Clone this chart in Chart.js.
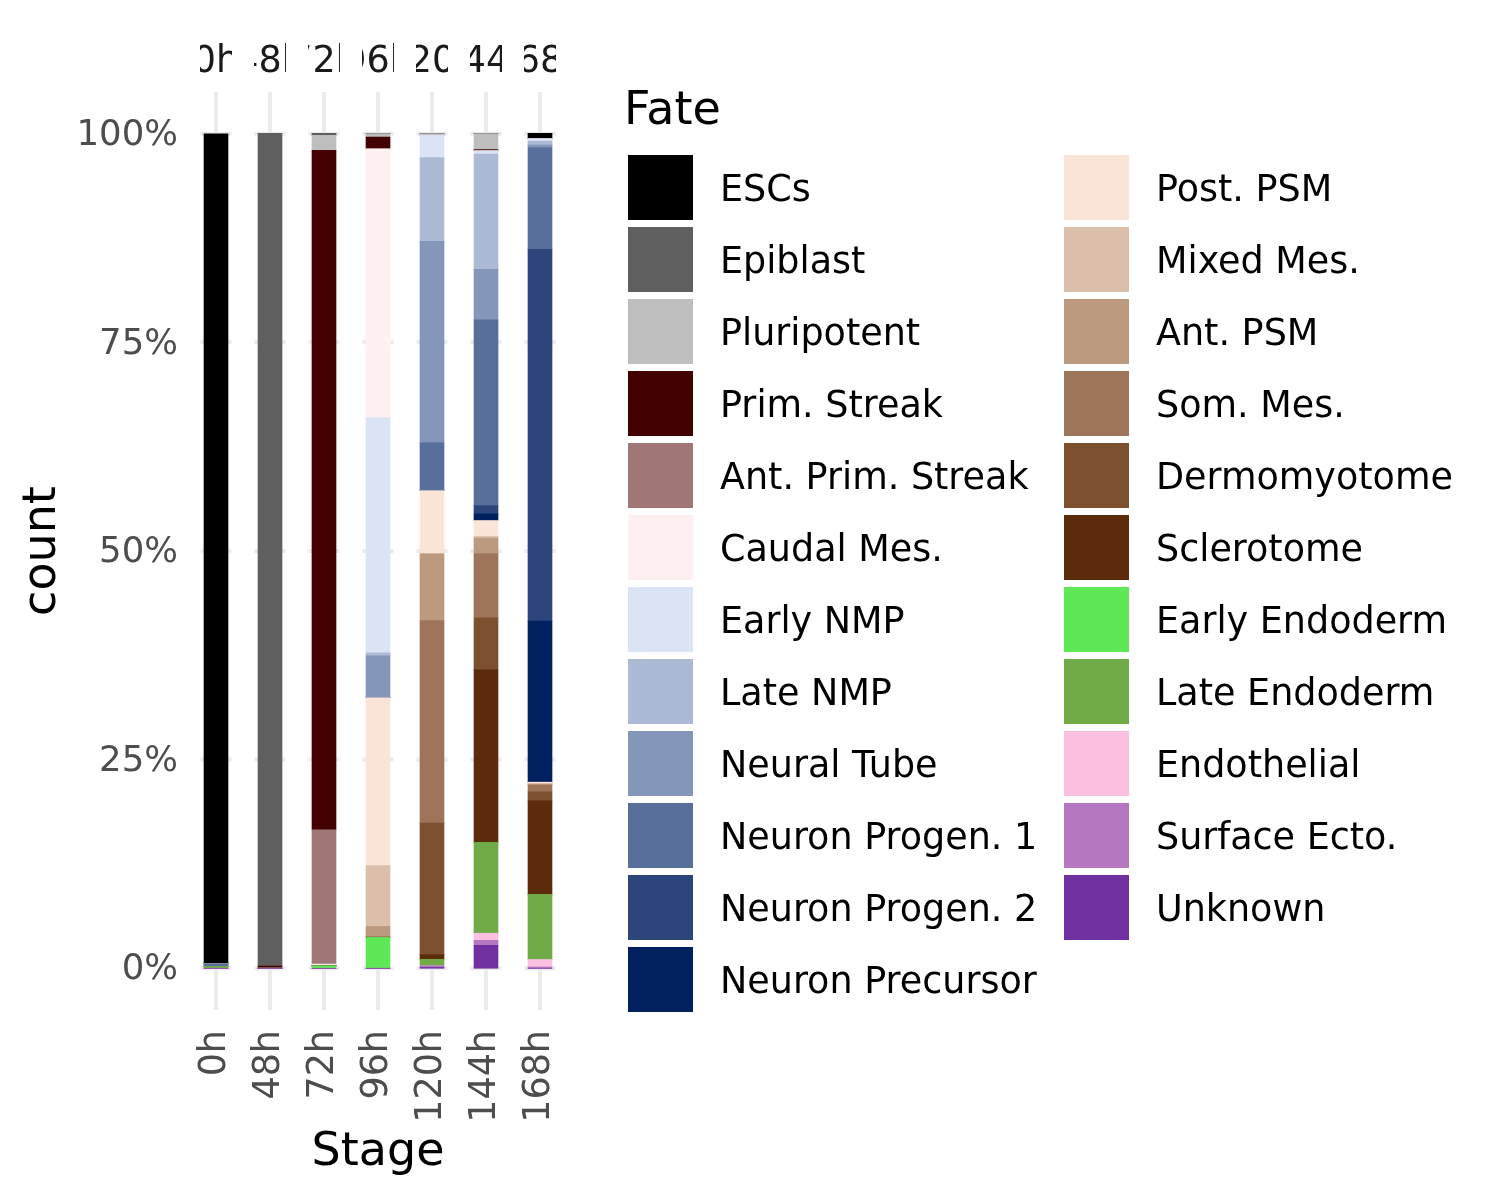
<!DOCTYPE html>
<html><head><meta charset="utf-8">
<script src="https://cdn.jsdelivr.net/npm/chart.js@4"></script>
<style>html,body{margin:0;padding:0;background:#fff}canvas{display:block}</style>
</head><body>
<canvas id="c" width="1500" height="1200"></canvas>
<script>
const stages = ['0h','48h','72h','96h','120h','144h','168h'];
const fates = ['ESCs','Epiblast','Pluripotent','Prim. Streak','Ant. Prim. Streak','Caudal Mes.','Early NMP','Late NMP','Neural Tube','Neuron Progen. 1','Neuron Progen. 2','Neuron Precursor','Post. PSM','Mixed Mes.','Ant. PSM','Som. Mes.','Dermomyotome','Sclerotome','Early Endoderm','Late Endoderm','Endothelial','Surface Ecto.','Unknown'];
const fateColors = ['#000000','#5f5f5f','#bebebe','#430000','#a07676','#fef0f0','#dbe4f4','#adbad6','#8496b9','#586e9b','#2c467c','#00205e','#fae4d8','#dbbfab','#bc9a80','#9e755a','#7d5030','#5c2b0b','#5ee856','#70ab47','#fbbfe0','#b577c0','#7130a0'];
// percentage share of each fate (same order as fates) per stage
const share0h   = [99.5,0,0,0,0,0,0,0,0,0.3,0,0,0,0,0,0,0,0,0,0.2,0,0,0];
const share48h  = [0,99.7,0,0.3,0,0,0,0,0,0,0,0,0,0,0,0,0,0,0,0,0,0,0];
const share72h  = [0,0.2,1.8,81.4,16.1,0.2,0,0,0,0,0,0,0,0,0,0,0,0,0.3,0,0,0,0];
const share96h  = [0,0,0.4,1.4,0,32.25,28.15,0.35,5.0,0,0,0,20.15,7.3,1.2,0.1,0,0,3.7,0,0,0,0];
const share120h = [0,0,0.2,0,0,0,2.65,10.05,24.1,5.75,0,0,7.6,0,8.0,24.25,15.75,0.6,0,0.75,0,0.2,0.1];
const share144h = [0,0,1.9,0.15,0,0,0.4,13.8,6.05,22.25,1.0,0.8,1.9,0.2,1.85,7.7,6.25,20.7,0,10.85,0.85,0.6,2.75];
const share168h = [0.65,0,0,0,0,0,0.3,0.45,0.3,12.2,44.55,19.3,0.15,0.1,0.1,0.8,1.1,11.2,0,7.8,0.9,0.15,0];
const stageShares = [share0h,share48h,share72h,share96h,share120h,share144h,share168h];
const yTickValues = [0,25,50,75,100];

const FONT = "'DejaVu Sans', sans-serif";
const SMALL = 36.5;
const BIG = 46;

const datasets = fates.map((f, k) => ({
  label: f,
  data: stageShares.map(s => s[k]),
  backgroundColor: fateColors[k],
  borderWidth: 0,
  barThickness: 24,
  stack: 'fill'
})).reverse();

const panelDecor = {
  id: 'panelDecor',
  beforeDatasetsDraw(chart) {
    const {ctx, scales: {x, y}} = chart;
    ctx.save();
    ctx.strokeStyle = '#ebebeb';
    ctx.lineWidth = 4;
    yTickValues.forEach(v => {
      const py = y.getPixelForValue(v);
      stages.forEach((s, i) => {
        const px = x.getPixelForValue(i);
        ctx.beginPath();
        ctx.moveTo(px - 15.5, py);
        ctx.lineTo(px + 15.5, py);
        ctx.stroke();
      });
    });
    ctx.restore();
  },
  afterDraw(chart) {
    const {ctx, scales: {x}} = chart;
    // facet strip labels (clipped to panel width)
    stages.forEach((s, i) => {
      const px = x.getPixelForValue(i);
      ctx.save();
      ctx.beginPath();
      ctx.rect(px - 16, 20, 32, 80);
      ctx.clip();
      ctx.fillStyle = '#1a1a1a';
      ctx.font = SMALL + 'px ' + FONT;
      ctx.textAlign = 'center';
      ctx.textBaseline = 'alphabetic';
      ctx.fillText(s, px, 72);
      ctx.restore();
    });
    // legend
    ctx.save();
    ctx.fillStyle = '#000';
    ctx.font = BIG + 'px ' + FONT;
    ctx.textAlign = 'left';
    ctx.textBaseline = 'alphabetic';
    ctx.fillText('Fate', 624, 124);
    ctx.font = SMALL + 'px ' + FONT;
    const perCol = 12;
    fates.forEach((f, k) => {
      const col = Math.floor(k / perCol);
      const row = k % perCol;
      const kx = col === 0 ? 628 : 1064;
      const ky = 155 + 72 * row;
      ctx.fillStyle = fateColors[k];
      ctx.fillRect(kx, ky, 65, 65);
      ctx.fillStyle = '#000';
      ctx.fillText(f, kx + 92, ky + 46);
    });
    ctx.restore();
  }
};

new Chart(document.getElementById('c'), {
  type: 'bar',
  data: { labels: stages, datasets },
  options: {
    responsive: false,
    animation: false,
    layout: { padding: { top: 92, right: 933, left: 0, bottom: 0 } },
    plugins: { legend: { display: false }, tooltip: { enabled: false } },
    scales: {
      x: {
        stacked: true,
        offset: true,
        grid: { display: true, offset: false, color: '#ebebeb', lineWidth: 4, drawTicks: false },
        border: { display: false },
        ticks: { color: '#4d4d4d', font: { family: FONT, size: SMALL }, minRotation: 90, maxRotation: 90, padding: 20, autoSkip: false },
        title: { display: true, text: 'Stage', color: '#000', font: { family: FONT, size: BIG }, padding: { top: 0, bottom: 19 } },
        afterFit(scale) { scale.height = 190; }
      },
      y: {
        stacked: true,
        min: -5,
        max: 105,
        grid: { display: false, drawTicks: false },
        border: { display: false },
        afterBuildTicks(scale) { scale.ticks = yTickValues.map(v => ({ value: v })); },
        ticks: { color: '#4d4d4d', font: { family: FONT, size: 35.5 }, padding: 11, labelOffset: 2, callback: v => v + '%' },
        title: { display: true, text: 'count', color: '#000', font: { family: FONT, size: BIG }, padding: { top: 15, bottom: 0 } },
        afterFit(scale) { scale.width = 189; }
      }
    }
  },
  plugins: [panelDecor]
});
</script>
</body></html>
